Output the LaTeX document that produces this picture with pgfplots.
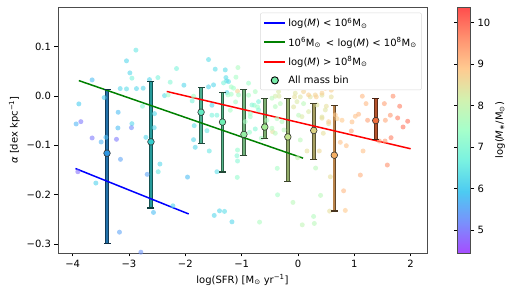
\documentclass[border=0pt]{standalone}
\usepackage{pgfplots}
\pgfplotsset{compat=1.18}
\usepackage{pgfplotstable}
\usepackage{fontspec}
\setmainfont{DejaVu Sans}

\definecolor{c1}{RGB}{45,150,225}
\definecolor{c2}{RGB}{50,205,205}
\definecolor{c3}{RGB}{100,235,195}
\definecolor{c4}{RGB}{110,240,180}
\definecolor{c5}{RGB}{150,238,165}
\definecolor{c6}{RGB}{165,235,150}
\definecolor{c7}{RGB}{195,228,140}
\definecolor{c8}{RGB}{220,210,130}
\definecolor{c9}{RGB}{245,175,100}
\definecolor{c10}{RGB}{240,110,60}
\definecolor{legc}{RGB}{120,235,170}
\definecolor{mgreen}{rgb}{0,0.5,0}

\pgfplotsset{colormap={rb}{rgb=(0.65,0.3,1) rgb=(0.475,0.568,0.987) rgb=(0.3,0.795,0.947) rgb=(0.475,0.947,0.882) rgb=(0.65,1,0.795) rgb=(0.825,0.947,0.689) rgb=(1,0.795,0.568) rgb=(1,0.568,0.437) rgb=(1,0.3,0.3)}}

\pgfplotstableread{
x y m
-2.877 0.0927 6.5
-3.044 0.071 6.2
-2.156 0.0554 6.8
-2.984 0.0466 6.2
-2.948 0.0359 6.8
-3.654 0.0324 5.8
-2.636 0.033 6.2
-2.487 0.0371 6.8
-2.268 0.0278 7.0
-2.025 0.0217 6.2
-3.156 0.0148 6.2
-3.044 0.0142 6.3
-2.867 0.0148 6.2
-2.748 0.0156 6.2
-2.369 0.0006 6.3
-2.304 0.002 7.5
-3.440 -0.0034 6.0
-3.890 -0.0162 6.0
-2.760 -0.0209 7.0
-3.192 -0.0331 5.8
-2.547 -0.0359 6.2
-3.938 -0.0568 5.7
-3.854 -0.0521 5.0
-2.948 -0.0562 6.2
-2.956 -0.0643 5.2
-3.197 -0.0649 5.8
-2.552 -0.0643 6.2
-3.654 -0.0852 5.0
-3.410 -0.0838 5.8
-3.494 -0.0933 5.7
-3.222 -0.0878 5.0
-2.700 -0.0838 6.2
-3.151 -0.1284 5.5
-3.908 -0.1535 4.9
-3.588 -0.1764 6.1
-2.677 -0.1588 5.5
-2.451 -0.1379 6.2
-2.481 -0.1535 6.5
-2.220 -0.2225 6.2
-2.565 -0.2359 5.8
-3.169 -0.2758 5.5
-2.789 -0.3164 5.3
-1.842 -0.0602 6.3
-1.854 -0.0886 6.2
-1.824 -0.1040 6.2
-1.616 -0.0704 6.5
-1.575 -0.1115 6.5
-1.961 -0.1643 5.8
-1.439 -0.1535 6.3
-1.487 -0.2419 6.2
-1.393 -0.2326 6.2
-1.304 -0.2338 6.3
-1.172 -0.2549 6.2
-1.073 -0.1095 7.2
-1.083 -0.1211 7.0
-1.073 -0.1318 7.0
-1.078 -0.1649 7.2
-0.860 -0.0736 7.3
-0.758 -0.0669 7.0
-0.652 -0.0858 7.5
-0.451 -0.0724 8.5
-0.368 -0.1466 7.5
-0.249 -0.0690 7.8
0.041 -0.0892 7.8
-0.007 -0.1251 8.0
0.160 -0.1115 8.5
-0.362 -0.2002 7.5
-0.089 -0.2156 7.8
0.076 -0.2610 7.9
-0.682 -0.2555 7.6
0.449 -0.0756 8.5
0.378 -0.1115 8.6
0.313 -0.1460 7.8
0.574 -0.1637 8.5
0.401 -0.2014 7.8
0.277 -0.2440 7.7
0.290 -0.2582 7.8
0.751 -0.0939 9.0
0.858 -0.1008 9.0
0.947 -0.0710 9.3
1.155 -0.1115 9.0
1.107 -0.1602 9.2
0.810 -0.1921 9.1
0.840 -0.2318 8.9
0.561 -0.2332 8.5
1.586 -0.1399 9.6
1.652 -0.0846 9.8
1.545 -0.0913 9.5
1.444 -0.0913 9.4
1.865 -0.0629 9.9
-1.588 0.0736 6.3
-1.469 0.0541 6.3
-1.279 0.0371 6.3
-1.268 0.0304 6.3
-1.321 0.0264 6.8
-1.066 0.0574 7.6
-1.101 0.0379 7.5
-1.185 0.0183 7.5
-0.480 0.0959 7.6
-0.540 0.1434 7.8
-1.499 0.0223 6.2
-1.588 0.0183 6.2
-1.854 -0.0006 7.5
-1.877 -0.0101 6.8
-1.528 -0.0189 6.2
-1.261 0.0067 6.2
-1.185 0.0034 7.5
-1.528 -0.0391 6.8
-1.439 -0.0391 6.8
-1.202 -0.0290 7.5
-1.108 -0.0122 7.5
-1.073 0.0095 8.7
-0.877 0.0014 7.5
-0.776 -0.0189 7.2
-0.718 -0.0223 7.4
-0.847 -0.0359 7.5
-0.403 -0.0006 8.2
-0.337 -0.0006 8.3
-0.314 -0.0156 7.8
-0.060 -0.0020 8.5
0.041 -0.0020 8.4
-0.551 -0.0493 7.6
-0.373 -0.0460 7.6
-0.078 -0.0223 8.4
0.011 -0.0391 7.8
1.147 0.0391 9.3
0.947 0.0345 9.0
0.574 0.0197 8.7
0.591 0.0116 8.8
0.218 -0.0020 8.4
0.325 -0.0020 8.8
0.426 0.0014 8.4
0.591 -0.0020 8.5
1.142 -0.0006 9.1
1.687 -0.0006 9.6
1.533 -0.0156 9.4
1.805 -0.0209 9.8
1.208 -0.0156 9.1
1.076 -0.0371 9.1
1.018 -0.0412 9.0
0.959 -0.0527 9.0
1.236 -0.0493 9.4
1.769 -0.0446 9.8
1.947 -0.0513 9.9
1.639 -0.0391 9.5
1.551 -0.0493 9.3
0.099 -0.0156 7.8
0.503 -0.0209 8.5
0.426 -0.0426 8.4
0.544 -0.0562 8.5
0.693 -0.0460 8.8
0.782 -0.0493 8.9
-0.877 0.0258 7.4
-0.172 0.0162 8.0
-1.291 0.0527 6.3
-1.233 0.029 6.3
-1.144 0.0156 7.4
-1.243 0.002 7.4
-1.055 0.002 7.5
-0.758 0.0087 7.6
-0.817 -0.0183 7.0
-0.700 -0.0116 6.8
-0.700 -0.0284 7.0
-0.847 -0.042 7.4
-0.462 -0.0047 7.8
-0.403 -0.0217 7.7
-0.345 0.0087 8.3
-0.226 0.0189 8.6
-0.048 0.0055 8.4
-0.018 -0.0116 8.3
0.099 0.0087 8.7
0.188 0.002 8.8
0.307 0.002 8.7
0.426 0.0055 8.8
0.485 0.0156 9.0
0.337 -0.0183 8.4
0.485 -0.0284 8.4
0.426 -0.0452 8.5
0.188 -0.0318 8.3
0.071 -0.042 8.3
-0.284 -0.0521 7.7
-0.462 -0.0655 7.7
-0.403 -0.0756 7.8
-0.936 -0.0521 7.5
0.544 -0.0521 8.8
0.663 -0.0385 8.9
}\pts

% x, y, top, bottom, colour
\newcommand{\ebar}[5]{%
\addplot[forget plot, line width=3.6pt, #5!40!black] coordinates {(#1,#4) (#1,#3)};
\addplot[forget plot, line width=1.9pt, #5!75!black] coordinates {(#1,#4) (#1,#3)};
\addplot[forget plot, only marks, mark=-, mark size=3.5pt, line width=1.2pt, #5!30!black] coordinates {(#1,#4) (#1,#3)};
\addplot[forget plot, only marks, mark=*, mark size=3.3pt,
  mark options={fill=#5, draw=black!80, line width=0.6pt}]
  coordinates {(#1,#2)};
}

\begin{document}
\begin{tikzpicture}
\useasboundingbox (-58pt,-43pt) rectangle (449pt,253pt);
\begin{axis}[
  at={(0,0)}, anchor=south west,
  scale only axis, width=369pt, height=246pt,
  xmin=-4.26, xmax=2.29, ymin=-0.318, ymax=0.18,
  xtick={-4,-3,-2,-1,0,1,2},
  xticklabels={−4,−3,−2,−1,0,1,2},
  ytick={-0.3,-0.2,-0.1,0,0.1},
  yticklabels={−0.3,−0.2,−0.1,0.0,0.1},
  xtick pos=bottom, ytick pos=left,
  tick align=outside, major tick length=3.5pt,
  tick style={black, line width=0.6pt},
  axis line style={black!70, line width=0.7pt},
  xlabel={log(SFR) [M\textsubscript{⊙} yr\textsuperscript{−1}]},
  ylabel={{\itshape α} [dex kpc\textsuperscript{−1}]},
  colormap name=rb,
  point meta min=4.45, point meta max=10.38,
  colorbar,
  colorbar style={
    at={(parent axis.north east)}, anchor=north west, xshift=22pt,
    scale only axis, width=13pt, height=246pt,
    ytick={5,6,7,8,9,10}, yticklabels={5,6,7,8,9,10},
    yticklabel pos=right, tick align=outside, major tick length=3.5pt,
    tick style={black, line width=0.6pt},
    axis line style={black!70, line width=0.7pt},
    ylabel={log({\itshape M}\textsubscript{∗}/M\textsubscript{⊙})},
    ylabel style={at={(axis description cs:3.28,0.5)}, anchor=center, rotate=0},
  },
  legend style={at={(axis description cs:0.986,0.977)}, anchor=north east,
    draw=black!15, rounded corners=2pt, fill=white,
    row sep=5pt, inner sep=3pt},
  legend cell align=left,
]
\addplot[scatter, only marks, mark=*, mark size=2.5pt,
  scatter/use mapped color={draw opacity=0, fill=mapped color},
  fill opacity=0.62, point meta=\thisrow{m}, forget plot]
  table[x=x, y=y] {\pts};

\ebar{-3.39}{-0.116}{0.0136}{-0.298}{c1}
\ebar{-2.61}{-0.093}{0.029}{-0.227}{c2}
\ebar{-1.72}{-0.033}{0.017}{-0.096}{c3}
\ebar{-1.34}{-0.053}{0.0075}{-0.154}{c4}
\ebar{-0.96}{-0.078}{0.0136}{-0.121}{c5}
\ebar{-0.59}{-0.063}{-0.006}{-0.087}{c6}
\ebar{-0.18}{-0.083}{-0.006}{-0.174}{c7}
\ebar{0.28}{-0.070}{-0.015}{-0.128}{c8}
\ebar{0.645}{-0.120}{-0.020}{-0.233}{c9}
\ebar{1.38}{-0.050}{-0.005}{-0.089}{c10}

\addplot[forget plot, blue, line width=1.5pt]
  coordinates {(-3.95,-0.147) (-1.94,-0.239)};
\addplot[forget plot, mgreen, line width=1.5pt]
  coordinates {(-3.89,0.031) (0.09,-0.126)};
\addplot[forget plot, red, line width=1.5pt]
  coordinates {(-2.33,0.009) (2.0,-0.107)};

\addlegendimage{legend image code/.code={\draw[blue, line width=2pt] (0pt,0pt) -- (21pt,0pt);}}
\addlegendentry{log({\itshape M}) < 10\textsuperscript{6}M\textsubscript{⊙}}
\addlegendimage{legend image code/.code={\draw[mgreen, line width=2pt] (0pt,0pt) -- (21pt,0pt);}}
\addlegendentry{10\textsuperscript{6}M\textsubscript{⊙}\hspace{5pt}< log({\itshape M}) < 10\textsuperscript{8}M\textsubscript{⊙}}
\addlegendimage{legend image code/.code={\draw[red, line width=2pt] (0pt,0pt) -- (21pt,0pt);}}
\addlegendentry{log({\itshape M}) > 10\textsuperscript{8}M\textsubscript{⊙}}
\addlegendimage{legend image code/.code={\draw[fill=legc, draw=black, line width=0.9pt] (10.5pt,0pt) circle (3.6pt);}}
\addlegendentry{All mass bin}
\end{axis}
\end{tikzpicture}
\end{document}
